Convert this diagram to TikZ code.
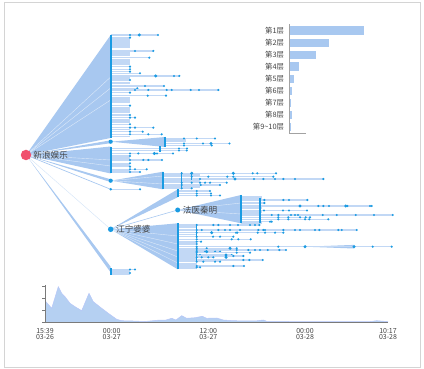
\documentclass[tikz,border=0pt]{standalone}
\usepackage{fontspec}
\setmainfont{Noto Sans CJK SC}
\definecolor{fanblue}{HTML}{A8C8F0}
\definecolor{dotblue}{HTML}{1A9BE2}
\definecolor{lnblue}{HTML}{C2D8F5}
\definecolor{rootred}{HTML}{F0506E}
\definecolor{framegray}{HTML}{D4D4D4}
\definecolor{axisgray}{HTML}{7A7A7A}
\definecolor{txt}{HTML}{444444}
\tikzset{
  fan/.style={fill=fanblue},
  sepline/.style={draw=white, line width=0.4pt, opacity=0.6},
  leafline/.style={draw=lnblue, line width=1.05pt},
  colbar/.style={draw=dotblue, line width=2pt},
  subbar/.style={draw=dotblue, line width=1.1pt},
  hubdot/.style={circle, fill=dotblue, inner sep=0pt, minimum size=#1},
  hubdot/.default=4.2pt,
  lbl/.style={anchor=west, inner sep=0pt, text=txt, font=\fontsize{8.6}{10}\selectfont},
  barlbl/.style={anchor=east, inner sep=0pt, text=txt, font=\fontsize{7.4}{8}\selectfont},
  ticklbl/.style={align=center, inner sep=0pt, text=txt, font=\fontsize{7}{6}\selectfont},
  axisline/.style={draw=axisgray, line width=0.6pt},
}
\newcommand\leafrows[2]{\foreach \yy/\xe/\ds in {#2}{\draw[leafline] (#1,\yy) -- (\xe,\yy); \foreach \d in \ds {\fill[dotblue] (\d,\yy) circle (1.2pt);}}}
\newcommand\plainrows[3]{\foreach \yy in {#3}{\draw[leafline] (#1,\yy) -- (#2,\yy);}}
\newcommand\bigdots[1]{\foreach \xx/\yy in {#1}{\fill[dotblue] (\xx,\yy) circle (1.7pt);}}
\begin{document}
\begin{tikzpicture}[x=1pt,y=-1pt]
\useasboundingbox (0,0) rectangle (424,369);
\draw[framegray, line width=0.8pt] (4.7,2.7) rectangle (420.3,367.3);

% ---------- coordinates of hubs
\coordinate (r0) at (26,155);
\coordinate (c142) at (110.7,141.7);
\coordinate (c181) at (110.7,180.7);
\coordinate (c189) at (110.7,189.3);
\coordinate (cjn) at (110.7,229.3);
\coordinate (cfy) at (177.7,210);
\coordinate (cw) at (305,246.7);

% ---------- fans from root
\fill[fan] (r0) -- (110.7,35) -- (110.7,138) -- cycle;
\fill[fan] (r0) -- (110.7,140.3) -- (110.7,143.2) -- cycle;
\fill[fan] (r0) -- (110.7,146.5) -- (110.7,173.5) -- cycle;
\fill[fan] (r0) -- (110.7,179.3) -- (110.7,182.1) -- cycle;
\draw[fanblue, line width=0.7pt] (r0) -- (c189);
\draw[fanblue!45, line width=0.5pt] (r0) -- (cjn);
\fill[fan] (r0) -- (110.7,266.8) -- (110.7,272.5) -- cycle;
\foreach \t in {77,88,100,160,166}{\draw[sepline] (r0) -- (110.7,\t);}

% ---------- fans of level 2
\fill[fan] (c142) -- (165.3,137) -- (165.3,147) -- cycle;
\fill[fan] (c181) -- (163,171.7) -- (163,189.3) -- cycle;
\foreach \t in {176,184}{\draw[sepline] (c181) -- (163,\t);}
\fill[fan] (cjn) -- (177.7,189.3) -- (177.7,197.3) -- cycle;
\draw[fanblue, line width=0.6pt] (cjn) -- (cfy);
\fill[fan] (cjn) -- (177.7,223.3) -- (177.7,269.3) -- cycle;
\foreach \t in {236,244,251,257,263}{\draw[sepline] (cjn) -- (177.7,\t);}
\fill[fan] (cfy) -- (241,195) -- (241,223.3) -- cycle;
\foreach \t in {203,214}{\draw[sepline] (cfy) -- (241,\t);}
\fill[fan] (cw) -- (354,244.9) -- (354,248.5) -- cycle;

% ---------- leaves of the upper column
\plainrows{110.7}{130}{39,41,43,45,47,53,55,60,62,64,78,83,98,100,102,108,110,112,120,122,129.5,136.5}
\leafrows{110.7}{35/158/{130,158}, 37.7/130/{130}, 51/153.3/{135,153.3}, 57.7/149.3/{149.3},
 66.7/130/{130}, 69.3/130/{130}, 71.7/130/{130}, 73.3/140/{140}, 76/179.3/{174,179.3},
 80/130/{130}, 86/164/{145,164}, 88.3/137.3/{137.3},
 90/218.3/{135,148.3,166.7,171.7,190.7,199,218.3}, 92.7/130/{130}, 95.7/166/{147.7,166},
 105.7/130/{130}, 115/130/{130}, 117.7/135/{130,135}, 124.3/130/{130},
 127.7/153.3/{130,135,153.3}, 131.7/142.7/{130,142.7}, 134.3/161.7/{130,148.3,161.7}}
\bigdots{139.3/35, 155.7/76}

% ---------- group of node 142
\plainrows{165.3}{186}{140,141.5}
\leafrows{165.3}{138.5/215/{184,196.7,215}, 143.5/229.5/{184,203,229.5}, 145.5/211.7/{184,211.7}}
\bigdots{211/143.5}

% ---------- second column 147-173
\plainrows{110.7}{130}{158,165,171}
\leafrows{110.7}{148.5/187/{179,187}, 150.5/186.7/{160,179,186.7}, 153.5/173/{130,138.3,157,173},
 156/130/{130}, 160/162/{130,143.3,148.3,162}, 163.3/130/{130}, 166.7/130/{130},
 169.3/146.7/{130,135,146.7}, 172/140/{130,140}}
\bigdots{154.3/153.5}
\draw[subbar] (160,146.5) -- (160,152);

% ---------- group of node 181
\plainrows{163}{200}{175,181,187}
\leafrows{163}{173.3/276/{181.7,191.7,252.7,257.3,276}, 176.7/273.3/{191.7,208.3,227.3,233.3,273.3},
 179/323.3/{200,254,263.3,275,283.3,295,323.3}, 182.7/226.7/{181.7,191.7,200,205,210,226.7},
 185/220/{181.7,200.7,220}, 188.3/191.7/{181.7,191.7}}
\bigdots{233.3/173.3, 235/179, 191.7/173.3}
\draw[subbar] (181.7,172.5) -- (181.7,189);
\draw[subbar] (191.7,172.5) -- (191.7,180);

% ---------- node 189
\leafrows{110.7}{189.3/140/{140}}

% ---------- upper children of jiangning
\leafrows{177.7}{191/210/{196.7,210}, 193.5/211/{196.7,211}, 195.5/220/{196.7,211,220}}

% ---------- children of fayi
\plainrows{241}{262}{197,198.5,208,212,223}
\leafrows{241}{200/307.3/{260,264.3,283.3,289,307.3}, 203/264.3/{260,264.3},
 206/371.7/{260,318.3,323.3,329,347.3,370,371.7}, 210.5/307/{260,264,283,289,307},
 213/260/{260}, 215/392.7/{260,271.7,278.3,291,295,298,322.7,336.7,355.7,374,392.7},
 217.3/310/{260,278.3,288.3,300,305.7,310}, 219.3/328.3/{260,278.3,288.3,305,309.3,328.3},
 221.7/271.7/{260,270,271.7}}
\bigdots{300/206, 345.7/206}
\draw[subbar] (260,198) -- (260,223);

% ---------- lower children of jiangning
\plainrows{177.7}{197}{227,234.5,243,254,259,264,268.5}
\leafrows{177.7}{225/259.3/{196.7,213.3,218.3,230,238,250,255,259.3},
 230/356.7/{196.7,201.7,218.3,225,230,240,258.3,263.3,265,283.3,295,300,315,319.3,338.3,341.7,356.7},
 232.7/283.3/{196.7,236,237.3,257.7,265,275,283.3}, 236.7/233.3/{196.7,213,220,233.3},
 239.3/250.7/{196.7,231.7,238.3,250.7}, 241.7/201/{196.7,201}, 244/196.7/{196.7},
 246.7/391.7/{196.7,278.3,372.7,391.7}, 248.3/236.7/{196.7,206.7,236.7},
 250/286/{196.7,236.7,248.3,255,260,267.7,279.3,286}, 251.7/220/{196.7,205,215,220},
 252.7/250/{196.7,236.7,250}, 255/231.7/{196.7,200,231.7}, 256/243.3/{233.3,243.3},
 257.3/213.3/{196.7,201.7,208.3,213.3}, 260/262.7/{243.3,249.3,262.7},
 261.7/220/{196.7,203.3,215,220}, 266/244/{196.7,233.3,244}, 267.3/200/{196.7,200}}
\bigdots{211.7/232.7, 230/248.3, 206.7/251.7, 226/257.3, 226/255, 305/246.7, 354/246.7}
\draw[subbar] (196.7,224) -- (196.7,238);
\draw[subbar] (196.7,246) -- (196.7,262);

% ---------- bottom column
\plainrows{110.7}{130}{271,274.5}
\leafrows{110.7}{269.5/135/{130,135}, 273/130/{130}}

% ---------- columns
\draw[colbar] (110.7,35) -- (110.7,138);
\draw[colbar] (110.7,146.8) -- (110.7,173.3);
\draw[colbar] (110.7,268.3) -- (110.7,275);
\draw[colbar] (165.3,136.8) -- (165.3,147.3);
\draw[colbar] (163,171.7) -- (163,189.3);
\draw[colbar] (177.7,189.3) -- (177.7,197.3);
\draw[colbar] (177.7,223.3) -- (177.7,269.3);
\draw[colbar] (241,195) -- (241,223.3);

% ---------- hub nodes and labels
\node[hubdot] (n142) at (c142) {};
\node[hubdot] (n181) at (c181) {};
\node[hubdot=2.8pt] (n189) at (c189) {};
\node[hubdot=5.5pt] (jn) at (cjn) {};
\node[hubdot=5pt] (fy) at (cfy) {};
\node[circle, fill=rootred, inner sep=0pt, minimum size=10.5pt] (root) at (r0) {};
\node[lbl] (rootlbl) at (33.3,155) {新浪娱乐};
\node[lbl] (jnlbl) at (116,229.3) {江宁婆婆};
\node[lbl] (fylbl) at (182.7,210) {法医秦明};

% ---------- layer bar chart
\draw[axisline, draw=axisgray!70] (289.3,24) -- (289.3,133) -- (306,133);
\fill[fanblue] (289.7,26) rectangle (364,35.3);
\fill[fanblue] (289.7,38.7) rectangle (329.3,47.3);
\fill[fanblue] (289.7,50.7) rectangle (316,59.3);
\fill[fanblue] (289.7,62) rectangle (299,71.3);
\fill[fanblue] (289.7,74.7) rectangle (294.3,83.3);
\fill[fanblue] (289.7,86.7) rectangle (292,95.3);
\fill[fanblue] (289.7,98.7) rectangle (290.4,107.3);
\fill[fanblue] (289.7,110.7) rectangle (292,119.3);
\fill[fanblue] (289.7,122.7) rectangle (290.2,131.3);
\node[barlbl] (b1) at (284.3,30.7) {第1层};
\node[barlbl] (b2) at (284.3,43) {第2层};
\node[barlbl] (b3) at (284.3,55) {第3层};
\node[barlbl] (b4) at (284.3,66.7) {第4层};
\node[barlbl] (b5) at (284.3,79) {第5层};
\node[barlbl] (b6) at (284.3,91) {第6层};
\node[barlbl] (b7) at (284.3,103) {第7层};
\node[barlbl] (b8) at (284.3,115) {第8层};
\node[barlbl] (b9) at (284.3,127) {第9\textasciitilde10层};

% ---------- timeline
\fill[fanblue!85] plot coordinates {(45,322.3) (45,300.7) (51.7,308.3) (58.3,286.7) (61.7,293.3) (65,296.7)
 (70,303.3) (75,306.7) (81.7,310.7) (89,293.3) (93.3,301.7) (101.7,308.3) (108.3,313.3) (116.7,319.3)
 (121.7,320.7) (133,321) (145,321.5) (160,320) (166,320) (171.7,318.3) (176,320) (181.7,315.7)
 (186.7,318.3) (195,317.7) (202.3,316.3) (206.7,318.3) (216.7,318) (223.3,320) (233.3,320.7)
 (255,321) (263.3,320) (266.7,321.3) (300,321.6) (370,321.6) (376.7,320.7) (388,321.6) (388,322.3)} -- cycle;
\draw[fanblue!80!blue!60, line width=0.5pt] plot coordinates {(45,300.7) (51.7,308.3) (58.3,286.7) (61.7,293.3) (65,296.7)
 (70,303.3) (75,306.7) (81.7,310.7) (89,293.3) (93.3,301.7) (101.7,308.3) (108.3,313.3) (116.7,319.3)
 (121.7,320.7) (133,321) (145,321.5) (160,320) (166,320) (171.7,318.3) (176,320) (181.7,315.7)
 (186.7,318.3) (195,317.7) (202.3,316.3) (206.7,318.3) (216.7,318) (223.3,320) (233.3,320.7)
 (255,321) (263.3,320) (266.7,321.3) (300,321.6) (370,321.6) (376.7,320.7) (388,321.6)};
\draw[axisline] (45,285) -- (45,322.3) -- (388,322.3);
\foreach \t in {286,298.3,310,322.3}{\draw[axisline] (42,\t) -- (45,\t);}
\node[ticklbl] (t1) at (45,334) {15:39\\03-26};
\node[ticklbl] (t2) at (111.7,334) {00:00\\03-27};
\node[ticklbl] (t3) at (208.3,334) {12:00\\03-27};
\node[ticklbl] (t4) at (305,334) {00:00\\03-28};
\node[ticklbl] (t5) at (388,334) {10:17\\03-28};
\end{tikzpicture}
\end{document}
